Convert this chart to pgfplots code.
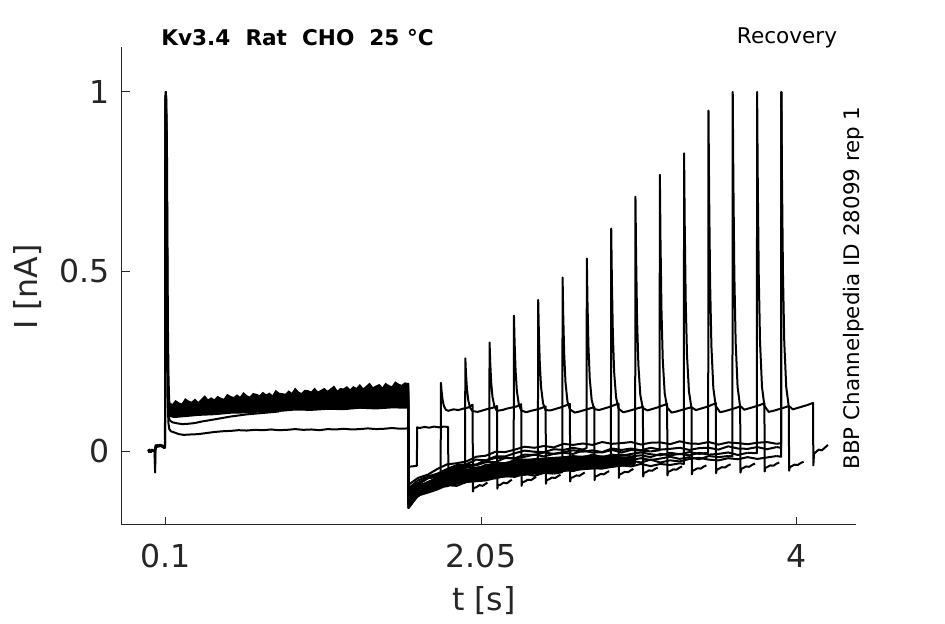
\documentclass[border=0pt]{standalone}
\usepackage{pgfplots}
\usepackage{pgfplotstable}
\pgfplotsset{compat=1.18}
\usepackage{fontspec}
\setmainfont{DejaVu Sans}
\definecolor{axgray}{rgb}{0.15,0.15,0.15}
\pgfplotsset{tr/.style={black, line width=1.0pt, line join=round}}

\pgfplotstableread{
t s1 s2 s3 s4 s5 s6 s7 s8 s9 s10 s11 s12 s13 s14 s15 sb sc
1.599 0.150 0.170 0.130 0.180 0.140 0.190 0.125 0.160 0.175 0.145 0.185 0.135 0.165 0.155 0.140 0.130 0.170
1.601 -0.131 -0.148 -0.103 -0.140 -0.118 -0.159 -0.104 -0.129 -0.147 -0.114 -0.158 -0.118 -0.135 -0.127 -0.111 -0.094 -0.141
1.66 -0.105 -0.126 -0.092 -0.113 -0.095 -0.124 -0.082 -0.112 -0.125 -0.093 -0.123 -0.103 -0.110 -0.101 -0.089 -0.075 -0.123
1.72 -0.088 -0.107 -0.076 -0.105 -0.089 -0.116 -0.071 -0.092 -0.105 -0.076 -0.113 -0.088 -0.102 -0.095 -0.074 -0.066 -0.101
1.78 -0.084 -0.103 -0.071 -0.087 -0.073 -0.107 -0.063 -0.090 -0.099 -0.071 -0.100 -0.074 -0.083 -0.078 -0.068 -0.050 -0.095
1.84 nan -0.092 -0.054 -0.085 -0.064 -0.095 -0.050 -0.076 -0.086 -0.059 -0.098 -0.073 -0.081 -0.072 -0.053 -0.037 -0.084
1.90 nan -0.082 -0.050 -0.077 -0.061 -0.097 -0.039 -0.074 -0.086 -0.057 -0.086 -0.060 -0.076 -0.068 -0.053 -0.034 -0.083
1.96 nan nan -0.039 -0.068 -0.046 -0.086 -0.037 -0.063 -0.078 -0.042 -0.086 -0.053 -0.065 -0.057 -0.041 -0.029 -0.070
2.02 nan nan -0.038 -0.070 -0.047 -0.084 -0.024 -0.054 -0.069 -0.040 -0.080 -0.052 -0.067 -0.050 -0.038 -0.016 -0.072
2.08 nan nan -0.025 -0.060 -0.042 -0.082 -0.026 -0.055 -0.071 -0.031 -0.073 -0.038 -0.056 -0.049 -0.027 -0.013 -0.065
2.14 nan nan nan -0.056 -0.032 -0.075 -0.015 -0.054 -0.064 -0.031 -0.076 -0.040 -0.054 -0.039 -0.019 -0.002 -0.058
2.20 nan nan nan -0.057 -0.035 -0.070 -0.015 -0.044 -0.067 -0.019 -0.068 -0.037 -0.053 -0.043 -0.020 -0.003 -0.062
2.26 nan nan nan nan -0.025 -0.072 -0.006 -0.045 -0.055 -0.021 -0.064 -0.028 -0.046 -0.034 -0.020 0.004 -0.053
2.32 nan nan nan nan -0.024 -0.063 0.001 -0.036 -0.056 -0.016 -0.066 -0.032 -0.040 -0.035 -0.010 0.012 -0.049
2.38 nan nan nan nan -0.024 -0.069 -0.002 -0.040 -0.051 -0.010 -0.056 -0.023 -0.043 -0.027 -0.011 0.009 -0.052
2.44 nan nan nan nan nan -0.061 -0.003 -0.034 -0.053 -0.015 -0.059 -0.023 -0.034 -0.022 -0.004 0.014 -0.041
2.50 nan nan nan nan nan -0.063 0.005 -0.028 -0.044 -0.008 -0.058 -0.024 -0.040 -0.026 -0.008 0.010 -0.045
2.56 nan nan nan nan nan nan 0.003 -0.032 -0.048 -0.005 -0.051 -0.018 -0.033 -0.027 -0.003 0.020 -0.044
2.62 nan nan nan nan nan nan 0.009 -0.028 -0.044 -0.008 -0.056 -0.014 -0.036 -0.019 0.002 0.017 -0.037
2.68 nan nan nan nan nan nan 0.004 -0.032 -0.040 0.001 -0.048 -0.018 -0.029 -0.022 -0.002 0.021 -0.043
2.74 nan nan nan nan nan nan nan -0.023 -0.045 -0.004 -0.048 -0.010 -0.024 -0.015 0.002 0.017 -0.035
2.80 nan nan nan nan nan nan nan -0.025 -0.038 -0.004 -0.049 -0.017 -0.029 -0.020 -0.003 0.025 -0.035
2.86 nan nan nan nan nan nan nan nan -0.035 0.003 -0.044 -0.010 -0.030 -0.015 0.007 0.020 -0.037
2.92 nan nan nan nan nan nan nan nan -0.039 -0.004 -0.040 -0.013 -0.023 -0.010 0.003 0.022 -0.031
2.98 nan nan nan nan nan nan nan nan -0.029 0.003 -0.043 -0.008 -0.025 -0.015 0.007 0.025 -0.027
3.04 nan nan nan nan nan nan nan nan nan 0.001 -0.036 -0.004 -0.020 -0.012 0.002 0.018 -0.032
3.10 nan nan nan nan nan nan nan nan nan -0.001 -0.042 -0.009 -0.025 -0.017 0.009 0.023 -0.024
3.16 nan nan nan nan nan nan nan nan nan nan -0.036 -0.012 -0.021 -0.008 0.004 0.024 -0.032
3.22 nan nan nan nan nan nan nan nan nan nan -0.039 -0.005 -0.016 -0.012 0.006 0.019 -0.026
3.28 nan nan nan nan nan nan nan nan nan nan -0.034 -0.009 -0.022 -0.008 0.009 0.027 -0.029
3.34 nan nan nan nan nan nan nan nan nan nan nan -0.003 -0.017 -0.012 0.003 0.021 -0.022
3.40 nan nan nan nan nan nan nan nan nan nan nan -0.008 -0.023 -0.005 0.008 0.020 -0.019
3.46 nan nan nan nan nan nan nan nan nan nan nan nan -0.014 -0.010 0.009 0.025 -0.024
3.52 nan nan nan nan nan nan nan nan nan nan nan nan -0.017 -0.008 0.004 0.018 -0.026
3.58 nan nan nan nan nan nan nan nan nan nan nan nan -0.014 -0.004 0.013 0.024 -0.020
3.64 nan nan nan nan nan nan nan nan nan nan nan nan nan -0.011 0.007 0.022 -0.023
3.70 nan nan nan nan nan nan nan nan nan nan nan nan nan -0.005 0.006 0.019 -0.017
3.76 nan nan nan nan nan nan nan nan nan nan nan nan nan nan 0.011 0.023 -0.022
3.82 nan nan nan nan nan nan nan nan nan nan nan nan nan nan 0.005 0.025 -0.018
3.88 nan nan nan nan nan nan nan nan nan nan nan nan nan nan 0.011 0.020 -0.014
}\rec

\begin{document}
\begin{tikzpicture}
\useasboundingbox (-61pt,-49.5pt) rectangle (411.5pt,262.5pt);
\begin{axis}[
  at={(0,0)}, anchor=south west,
  scale only axis, width=367pt, height=239pt,
  xmin=-0.172, xmax=4.371, ymin=-0.206, ymax=1.125,
  axis x line*=bottom, axis y line*=left,
  axis line style={color=axgray, line width=0.5pt},
  xtick={0.1,2.05,4}, xticklabels={0.1,2.05,4},
  ytick={0,0.5,1}, yticklabels={0,0.5,1},
  tick align=inside, major tick length=4pt,
  tick style={color=axgray, line width=0.5pt},
  ticklabel style={font=\fontsize{15.8}{18}\selectfont, text=axgray},
  xticklabel style={yshift=-6pt},
  yticklabel style={xshift=-2.5pt},
]
% plateau band during prepulse
\addplot[fill=black, draw=black, line width=0.8pt] coordinates {
(0.12,0.134)(0.14,0.128)(0.16,0.139)(0.18,0.133)(0.20,0.130)(0.22,0.144)(0.24,0.138)(0.26,0.135)(0.28,0.143)(0.30,0.134)
(0.32,0.143)(0.34,0.152)(0.36,0.141)(0.38,0.147)(0.40,0.141)(0.42,0.151)(0.44,0.146)(0.46,0.143)(0.48,0.156)(0.50,0.151)
(0.52,0.148)(0.54,0.155)(0.56,0.148)(0.58,0.161)(0.60,0.153)(0.62,0.149)(0.64,0.159)(0.66,0.157)(0.68,0.153)(0.70,0.162)
(0.72,0.155)(0.74,0.160)(0.76,0.152)(0.78,0.167)(0.80,0.160)(0.82,0.159)(0.84,0.157)(0.86,0.166)(0.88,0.159)(0.90,0.173)
(0.92,0.163)(0.94,0.159)(0.96,0.168)(0.98,0.167)(1.00,0.163)(1.02,0.173)(1.04,0.163)(1.06,0.168)(1.08,0.173)(1.10,0.165)
(1.12,0.172)(1.14,0.179)(1.16,0.165)(1.18,0.173)(1.20,0.172)(1.22,0.178)(1.24,0.169)(1.26,0.178)(1.28,0.173)(1.30,0.183)
(1.32,0.172)(1.34,0.179)(1.36,0.187)(1.38,0.175)(1.40,0.180)(1.42,0.184)(1.44,0.174)(1.46,0.187)(1.48,0.181)(1.50,0.178)
(1.52,0.191)(1.54,0.185)(1.56,0.182)(1.58,0.189)(1.60,0.186)
(1.60,0.120)(1.50,0.121)(1.40,0.118)(1.30,0.120)(1.20,0.116)(1.10,0.117)(1.00,0.114)(0.90,0.115)(0.80,0.111)(0.70,0.110)
(0.60,0.107)(0.50,0.106)(0.40,0.102)(0.30,0.100)(0.20,0.096)(0.15,0.094)(0.12,0.098)};
% dense core of the recovery traces
\addplot[fill=black, draw=black, line width=0.6pt] coordinates {
(1.601,-0.105)(1.66,-0.098)(1.72,-0.085)(1.78,-0.075)(1.84,-0.066)(1.90,-0.058)(1.96,-0.052)(2.02,-0.046)(2.08,-0.041)(2.14,-0.036)
(2.20,-0.032)(2.30,-0.026)(2.40,-0.021)(2.50,-0.018)(2.60,-0.015)(2.70,-0.014)(2.80,-0.014)(2.90,-0.016)(3.00,-0.018)
(3.00,-0.038)(2.90,-0.043)(2.80,-0.047)(2.70,-0.051)(2.60,-0.055)(2.50,-0.059)(2.40,-0.063)(2.30,-0.068)(2.20,-0.072)(2.10,-0.077)
(2.00,-0.084)(1.90,-0.092)(1.80,-0.100)(1.72,-0.110)(1.66,-0.122)(1.601,-0.148)};
% baseline and first peak (three variants)
\addplot[tr] coordinates {(-0.012,0.000)(-0.002,0.004)(0.008,-0.002)(0.018,0.003)(0.026,0.000)(0.031,0.004)(0.033,-0.060)(0.035,0.002)(0.038,0.014)(0.048,0.017)(0.060,0.013)(0.075,0.016)(0.088,0.012)(0.094,0.010)(0.096,0.95)(0.098,1.0)(0.102,0.98)(0.106,0.86)(0.109,0.62)(0.112,0.36)(0.116,0.20)(0.120,0.14)(0.126,0.115)(0.13,0.108)};
\addplot[tr] coordinates {(-0.010,0.003)(0.005,-0.003)(0.020,0.002)(0.030,0.000)(0.036,0.016)(0.050,0.012)(0.065,0.018)(0.080,0.011)(0.092,0.014)(0.095,0.020)(0.097,0.97)(0.100,1.0)(0.104,0.90)(0.108,0.55)(0.112,0.25)(0.116,0.12)(0.120,0.09)(0.125,0.085)(0.14,0.080)(0.17,0.077)(0.20,0.075)(0.24,0.076)(0.28,0.078)(0.32,0.082)(0.36,0.085)(0.40,0.088)(0.45,0.092)(0.50,0.096)(0.55,0.099)(0.60,0.102)(0.70,0.106)(0.80,0.110)};
\addplot[tr] coordinates {(-0.010,-0.004)(0.000,0.000)(0.015,0.004)(0.030,-0.002)(0.032,-0.050)(0.034,0.000)(0.040,0.012)(0.070,0.014)(0.090,0.008)(0.095,0.010)(0.097,0.99)(0.100,0.97)(0.103,0.70)(0.107,0.35)(0.111,0.15)(0.115,0.08)(0.120,0.062)(0.130,0.055)(0.15,0.052)(0.18,0.047)(0.21,0.045)(0.25,0.046)(0.30,0.047)(0.35,0.050)(0.40,0.053)(0.45,0.055)(0.50,0.056)(0.55,0.058)(0.60,0.057)(0.65,0.059)(0.70,0.058)(0.75,0.060)(0.80,0.058)(0.85,0.059)(0.90,0.061)(0.95,0.059)(1.00,0.060)(1.05,0.058)(1.10,0.061)(1.15,0.060)(1.20,0.062)(1.25,0.060)(1.30,0.061)(1.35,0.063)(1.40,0.061)(1.45,0.062)(1.50,0.064)(1.55,0.062)(1.598,0.063)(1.600,-0.044)(1.62,-0.043)(1.64,-0.042)(1.653,-0.041)(1.655,0.066)(1.67,0.064)(1.70,0.067)(1.73,0.065)(1.76,0.068)(1.79,0.066)(1.82,0.068)(1.846,0.067)(1.848,-0.055)(1.86,-0.050)(1.89,-0.046)(1.92,-0.043)(1.94,-0.040)};
% recovery traces
\addplot[tr] table[x=t,y=s1] {\rec};
\addplot[tr] table[x=t,y=s2] {\rec};
\addplot[tr] table[x=t,y=s3] {\rec};
\addplot[tr] table[x=t,y=s4] {\rec};
\addplot[tr] table[x=t,y=s5] {\rec};
\addplot[tr] table[x=t,y=s6] {\rec};
\addplot[tr] table[x=t,y=s7] {\rec};
\addplot[tr] table[x=t,y=s8] {\rec};
\addplot[tr] table[x=t,y=s9] {\rec};
\addplot[tr] table[x=t,y=s10] {\rec};
\addplot[tr] table[x=t,y=s11] {\rec};
\addplot[tr] table[x=t,y=s12] {\rec};
\addplot[tr] table[x=t,y=s13] {\rec};
\addplot[tr] table[x=t,y=s14] {\rec};
\addplot[tr] table[x=t,y=s15] {\rec};
\addplot[tr] table[x=t,y=sb] {\rec};
\addplot[tr] table[x=t,y=sc] {\rec};
% test pulses
\addplot[tr] coordinates {(1.78,-0.084)(1.800,-0.082)(1.802,0.190)(1.806,0.167)(1.812,0.143)(1.820,0.126)(1.832,0.115)(1.847,0.112)(1.88,0.116)(1.91,0.114)(1.94,0.118)(1.97,0.121)(1.998,0.129)(2.000,-0.113)(2.004,-0.103)(2.02,-0.101)(2.04,-0.095)(2.06,-0.097)(2.08,-0.091)(2.09,-0.088)};
\addplot[tr] coordinates {(1.90,-0.082)(1.951,-0.088)(1.953,0.258)(1.957,0.216)(1.963,0.173)(1.971,0.141)(1.983,0.120)(1.998,0.111)(2.03,0.109)(2.06,0.113)(2.09,0.117)(2.12,0.120)(2.149,0.125)(2.151,-0.105)(2.155,-0.095)(2.17,-0.094)(2.19,-0.088)(2.21,-0.090)(2.23,-0.083)(2.241,-0.080)};
\addplot[tr] coordinates {(2.08,-0.025)(2.101,-0.029)(2.103,0.302)(2.107,0.248)(2.113,0.191)(2.121,0.151)(2.133,0.124)(2.148,0.112)(2.18,0.114)(2.21,0.118)(2.24,0.121)(2.27,0.124)(2.299,0.130)(2.301,-0.097)(2.305,-0.087)(2.32,-0.085)(2.34,-0.080)(2.36,-0.081)(2.38,-0.075)(2.391,-0.072)};
\addplot[tr] coordinates {(2.20,-0.057)(2.252,-0.053)(2.254,0.377)(2.258,0.302)(2.264,0.224)(2.272,0.167)(2.284,0.130)(2.299,0.113)(2.33,0.108)(2.36,0.112)(2.39,0.115)(2.42,0.119)(2.450,0.124)(2.452,-0.091)(2.456,-0.081)(2.47,-0.079)(2.49,-0.074)(2.51,-0.075)(2.53,-0.069)(2.542,-0.066)};
\addplot[tr] coordinates {(2.38,-0.024)(2.402,-0.020)(2.404,0.421)(2.408,0.333)(2.414,0.243)(2.422,0.177)(2.434,0.133)(2.449,0.114)(2.48,0.113)(2.51,0.117)(2.54,0.121)(2.57,0.126)(2.600,0.131)(2.602,-0.085)(2.606,-0.075)(2.62,-0.073)(2.64,-0.068)(2.66,-0.069)(2.68,-0.063)(2.692,-0.060)};
\addplot[tr] coordinates {(2.50,-0.063)(2.553,-0.059)(2.555,0.483)(2.559,0.378)(2.565,0.269)(2.573,0.191)(2.585,0.138)(2.600,0.116)(2.63,0.107)(2.66,0.110)(2.69,0.114)(2.72,0.118)(2.751,0.122)(2.753,-0.081)(2.757,-0.071)(2.77,-0.069)(2.79,-0.064)(2.81,-0.065)(2.83,-0.059)(2.843,-0.056)};
\addplot[tr] coordinates {(2.68,0.004)(2.703,0.008)(2.705,0.536)(2.709,0.416)(2.715,0.292)(2.723,0.202)(2.735,0.142)(2.750,0.117)(2.78,0.114)(2.81,0.118)(2.84,0.122)(2.87,0.127)(2.901,0.132)(2.903,-0.075)(2.907,-0.065)(2.92,-0.063)(2.94,-0.058)(2.96,-0.059)(2.98,-0.053)(2.993,-0.050)};
\addplot[tr] coordinates {(2.80,-0.025)(2.854,-0.022)(2.856,0.619)(2.860,0.476)(2.866,0.328)(2.874,0.220)(2.886,0.149)(2.901,0.118)(2.93,0.108)(2.96,0.111)(2.99,0.115)(3.02,0.119)(3.052,0.123)(3.054,-0.071)(3.058,-0.061)(3.07,-0.059)(3.09,-0.054)(3.11,-0.055)(3.13,-0.049)(3.144,-0.046)};
\addplot[tr] coordinates {(2.98,-0.029)(3.004,-0.033)(3.006,0.708)(3.010,0.540)(3.016,0.366)(3.024,0.240)(3.036,0.156)(3.051,0.120)(3.08,0.113)(3.11,0.117)(3.14,0.121)(3.17,0.126)(3.202,0.131)(3.204,-0.068)(3.208,-0.058)(3.22,-0.056)(3.24,-0.051)(3.26,-0.052)(3.28,-0.046)(3.294,-0.043)};
\addplot[tr] coordinates {(3.10,-0.001)(3.155,0.002)(3.157,0.769)(3.161,0.584)(3.167,0.392)(3.175,0.253)(3.187,0.161)(3.202,0.121)(3.23,0.107)(3.26,0.110)(3.29,0.114)(3.32,0.118)(3.353,0.122)(3.355,-0.065)(3.359,-0.055)(3.37,-0.053)(3.39,-0.048)(3.41,-0.049)(3.43,-0.043)(3.445,-0.040)};
\addplot[tr] coordinates {(3.28,-0.034)(3.305,-0.036)(3.307,0.829)(3.311,0.627)(3.317,0.418)(3.325,0.267)(3.337,0.166)(3.352,0.122)(3.38,0.114)(3.41,0.118)(3.44,0.122)(3.47,0.127)(3.503,0.133)(3.505,-0.062)(3.509,-0.052)(3.52,-0.050)(3.54,-0.045)(3.56,-0.046)(3.58,-0.040)(3.595,-0.037)};
\addplot[tr] coordinates {(3.40,-0.008)(3.456,-0.005)(3.458,0.948)(3.462,0.713)(3.468,0.469)(3.476,0.293)(3.488,0.175)(3.503,0.125)(3.53,0.108)(3.56,0.111)(3.59,0.115)(3.62,0.119)(3.654,0.124)(3.656,-0.060)(3.660,-0.050)(3.67,-0.048)(3.69,-0.043)(3.71,-0.044)(3.73,-0.038)(3.746,-0.035)};
\addplot[tr] coordinates {(3.58,-0.014)(3.606,-0.015)(3.608,1.0)(3.612,0.750)(3.618,0.492)(3.626,0.304)(3.638,0.179)(3.653,0.126)(3.68,0.115)(3.71,0.119)(3.74,0.123)(3.77,0.127)(3.804,0.133)(3.806,-0.057)(3.810,-0.047)(3.82,-0.045)(3.84,-0.040)(3.86,-0.041)(3.88,-0.035)(3.896,-0.032)};
\addplot[tr] coordinates {(3.70,-0.005)(3.757,-0.006)(3.759,1.0)(3.763,0.750)(3.769,0.492)(3.777,0.304)(3.789,0.179)(3.804,0.126)(3.83,0.109)(3.86,0.112)(3.89,0.116)(3.92,0.120)(3.955,0.125)(3.957,-0.055)(3.961,-0.045)(3.97,-0.043)(3.99,-0.038)(4.01,-0.039)(4.03,-0.033)(4.047,-0.030)};
\addplot[tr] coordinates {(3.88,0.011)(3.907,0.009)(3.909,1.0)(3.913,0.750)(3.919,0.492)(3.927,0.304)(3.939,0.179)(3.954,0.126)(3.98,0.116)(4.01,0.120)(4.04,0.124)(4.07,0.128)(4.105,0.134)(4.107,-0.040)(4.111,-0.008)(4.12,-0.004)(4.14,0.004)(4.16,0.002)(4.18,0.010)(4.197,0.017)};
\addplot[tr] coordinates {(3.88,0.020)(3.907,0.022)(3.909,1.0)};
\addplot[tr] coordinates {(3.88,-0.014)(3.907,-0.016)(3.909,1.0)};
\end{axis}
\node[font=\fontsize{10.8}{13}\selectfont\bfseries] at (87.75pt,243.5pt) {Kv3.4\ \ Rat\ \ CHO\ \ 25 °C};
\node[font=\fontsize{10.8}{13}\selectfont] at (332.5pt,243.5pt) {Recovery};
\node[font=\fontsize{10.7}{13}\selectfont, rotate=90] at (366pt,118.5pt) {BBP Channelpedia ID 28099 rep 1};
\node[font=\fontsize{15.8}{18}\selectfont, text=axgray, rotate=90] at (-47pt,119pt) {I [nA]};
\node[font=\fontsize{15.8}{18}\selectfont, text=axgray] at (181pt,-38pt) {t [s]};
\end{tikzpicture}
\end{document}
